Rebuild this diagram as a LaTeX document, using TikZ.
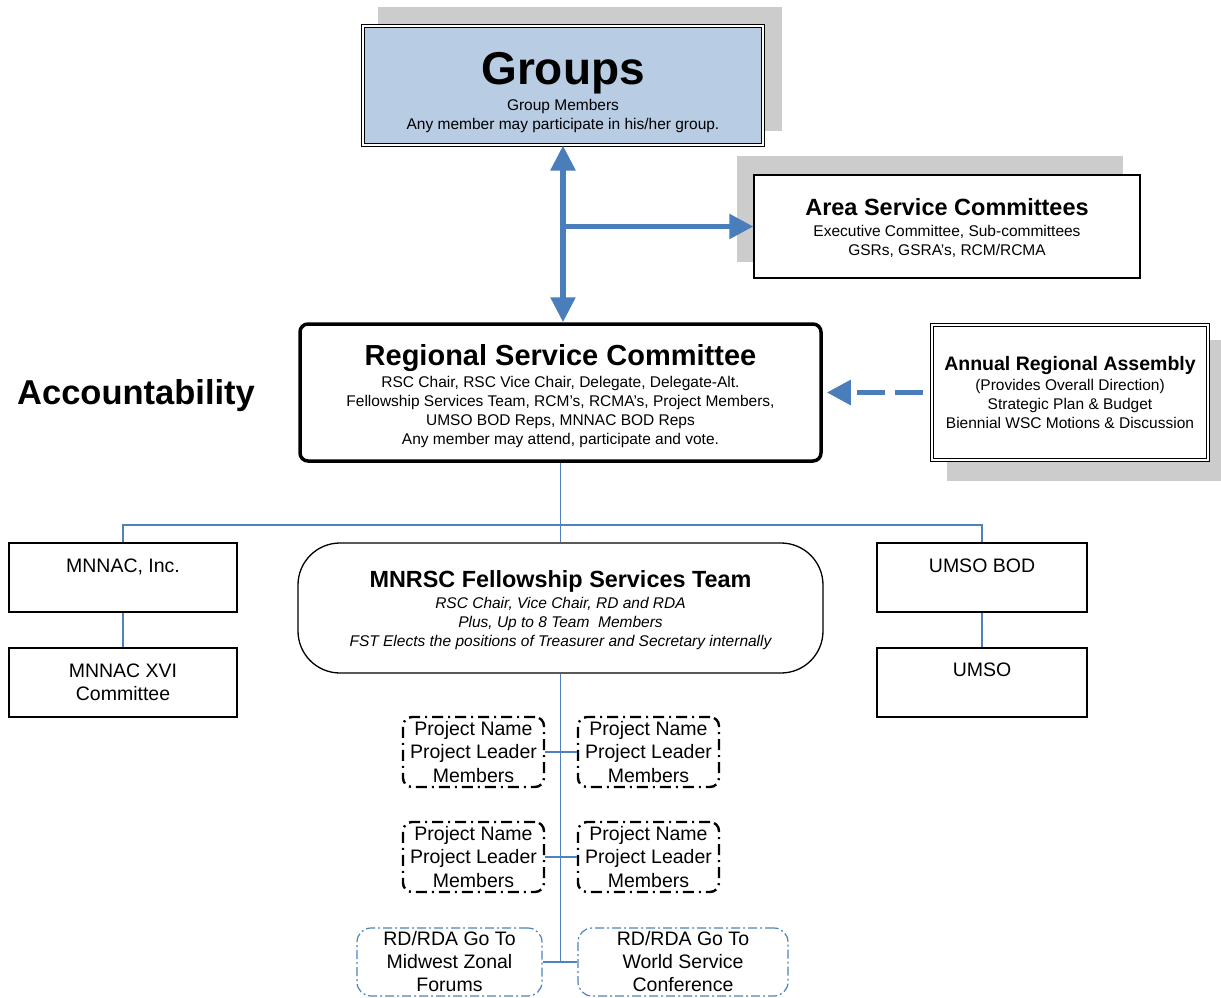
\documentclass[tikz,border=0pt]{standalone}
\usepackage{fontspec}
\setmainfont{Liberation Sans}
\usetikzlibrary{arrows.meta,calc}
\definecolor{boxblue}{RGB}{184,204,228}
\definecolor{arrowblue}{RGB}{74,126,187}
\definecolor{lineblue}{RGB}{79,129,189}
\definecolor{shadowgray}{RGB}{204,204,204}
\newcommand\fsz[2]{\fontsize{#1}{#2}\selectfont}
% invisible strut that lifts the first line of a box
\newcommand\topstrut[1]{\rule{0pt}{#1}}

\begin{document}
\begin{tikzpicture}[x=1pt,y=-1pt,
  box/.style={draw=black,line width=1.3pt,inner sep=0pt,align=center,fill=white},
  dbox/.style={box,line width=1pt,double=white,double distance=2.2pt},
  shade/.style={fill=shadowgray},
  bigarrow/.style={draw=arrowblue,line width=5.5pt},
  bighead/.style={-{Triangle[length=24pt,width=24pt]}},
  link/.style={draw=lineblue,line width=1.2pt},
  small/.style={font=\fsz{15.5}{19}},
  plain/.style={font=\fsz{19.5}{23.5}},
  orgbox/.style={box,plain,minimum width=228pt,minimum height=69pt},
  projbox/.style={draw=black,line width=2.4pt,rounded corners=9pt,
    dash pattern=on 11pt off 5pt on 2pt off 5pt,
    minimum width=141pt,minimum height=70pt,inner sep=0pt,align=center,plain},
  zonebox/.style={draw=lineblue,line width=1.2pt,rounded corners=14pt,
    dash pattern=on 9pt off 3pt on 2pt off 3pt,
    minimum height=68pt,inner sep=0pt,align=center,font=\fsz{19.5}{23}}]

\useasboundingbox (0,0) rectangle (1221,998);

% drop shadows behind the upper boxes
\fill[shade] (378,7) rectangle (782,131);
\fill[shade] (737,156) rectangle (1123,262);
\fill[shade] (947,340) rectangle (1221,481);

% upper level
\node[dbox,fill=boxblue,small,minimum width=400pt,minimum height=119pt] (groups) at (563,85.5)
  {{\fsz{46}{50}\bfseries\topstrut{46pt}Groups}\\[4pt]Group Members\\Any member may participate in his/her group.};

\node[box,small,minimum width=386pt,minimum height=103pt] (asc) at (947,226.5)
  {{\fsz{23.5}{28}\bfseries\topstrut{19.1pt}Area Service Committees}\\[2pt]Executive Committee, Sub-committees\\GSRs, GSRA’s, RCM/RCMA};

\node[box,small,line width=3.5pt,rounded corners=8pt,minimum width=521pt,minimum height=137pt] (rsc) at (560.5,392.5)
  {{\fsz{29}{33}\bfseries\topstrut{29pt}Regional Service Committee}\\[3pt]RSC Chair, RSC Vice Chair, Delegate, Delegate-Alt.\\Fellowship Services Team, RCM’s, RCMA’s, Project Members,\\UMSO BOD Reps, MNNAC BOD Reps\\Any member may attend, participate and vote.};

\node[dbox,small,minimum width=276pt,minimum height=135pt] (ara) at (1070,392.5)
  {{\fsz{19.5}{23}\bfseries Annual Regional Assembly}\\[1pt](Provides Overall Direction)\\Strategic Plan \& Budget\\Biennial WSC Motions \& Discussion};

\node[anchor=base west,font=\fsz{34.5}{40}\bfseries,inner sep=0pt] (acc) at (17,404) {Accountability};

% thick blue arrows
\coordinate (split) at (groups.south |- asc.west);
\draw[bigarrow,{Triangle[length=25pt,width=24pt]}-{Triangle[length=25pt,width=24pt]}] (groups.south) -- (groups.south |- rsc.north);
\draw[bigarrow,bighead] (split) -- (asc.west);
\draw[bigarrow,bighead,dash pattern=on 28pt off 10pt,shorten <=9pt,shorten >=4pt] (ara.west) -- (rsc.east);

% lower level
\node[orgbox] (mnnac) at (123,577.5) {};
\node[plain,inner sep=0pt] (mnnacT) at (123,567) {MNNAC, Inc.};
\node[orgbox] (mnnac16) at (123,682.5) {MNNAC XVI\\Committee};
\node[orgbox,minimum width=210pt] (umsobod) at (982,577.5) {};
\node[plain,inner sep=0pt] (umsobodT) at (982,565.5) {UMSO BOD};
\node[orgbox,minimum width=210pt] (umso) at (982,682.5) {};
\node[plain,inner sep=0pt] (umsoT) at (982,669.5) {UMSO};

\node[box,small,rounded corners=42pt,minimum width=525pt,minimum height=130pt] (fst) at (560.5,608)
  {{\fsz{23.4}{28}\bfseries\topstrut{21pt}MNRSC Fellowship Services Team}\\[2pt]\itshape RSC Chair, Vice Chair, RD and RDA\\\itshape Plus, Up to 8 Team\ \ Members\\\itshape FST Elects the positions of Treasurer and Secretary internally};

\node[projbox] (p1) at (473.5,752) {Project Name\\Project Leader\\Members};
\node[projbox] (p2) at (648.5,752) {Project Name\\Project Leader\\Members};
\node[projbox] (p3) at (473.5,857) {Project Name\\Project Leader\\Members};
\node[projbox] (p4) at (648.5,857) {Project Name\\Project Leader\\Members};

\node[zonebox,minimum width=185pt] (mwz) at (449.5,962) {RD/RDA Go To\\Midwest Zonal\\Forums};
\node[zonebox,minimum width=210pt] (wsc) at (683,962) {RD/RDA Go To\\World Service\\Conference};

% thin connectors
\coordinate (bus) at (rsc.south |- 0,525);
\draw[link] (rsc.south) -- (bus);
\draw[link] (bus) -| (mnnac.north);
\draw[link] (bus) -| (umsobod.north);
\draw[link] (bus) -- (fst.north);
\draw[link] (mnnac.south) -- (mnnac16.north);
\draw[link] (umsobod.south) -- (umso.north);
\draw[link] (fst.south) -- (fst.south |- mwz.east);
\draw[link] (p1.east) -- (p2.west);
\draw[link] (p3.east) -- (p4.west);
\draw[link] (mwz.east) -- (wsc.west);

\end{tikzpicture}
\end{document}
